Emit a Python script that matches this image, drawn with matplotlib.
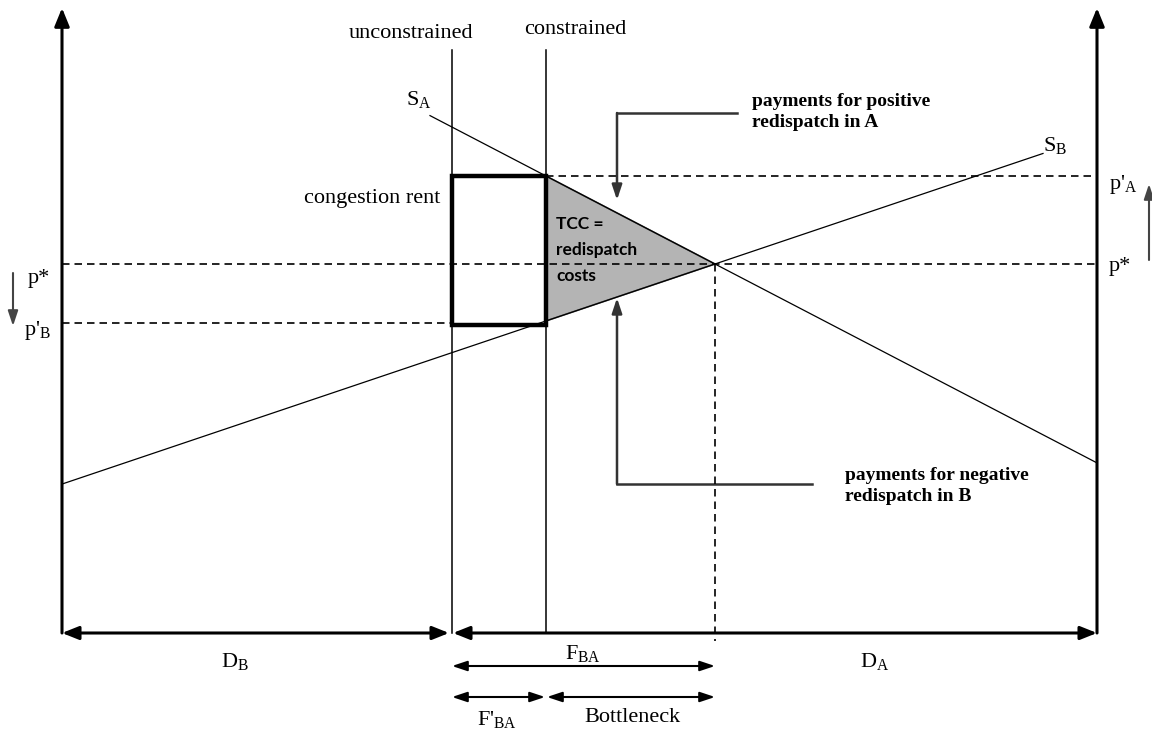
import matplotlib
matplotlib.use("Agg")
import matplotlib.pyplot as plt
from matplotlib.patches import Polygon, Rectangle
from matplotlib.font_manager import FontProperties

plt.rcParams['mathtext.fontset'] = 'custom'
plt.rcParams['mathtext.rm'] = 'Liberation Serif'
plt.rcParams['mathtext.it'] = 'Liberation Serif:italic'
plt.rcParams['mathtext.bf'] = 'Liberation Serif:bold'

# ---- diagram coordinates (pixel-like data space) ----
x_axes = [62, 1097]                  # left and right price axes
x_flows = [452, 546, 715]            # unconstrained, constrained, equilibrium
y_prices = [176, 264, 323]           # p'_A, p*, p'_B
y_base, y_top = 633, 8
# supply curves: through equilibrium (715, 264)
SA_x = [430, 1097]
SB_x = [62, 1043]
SA_slope, SB_slope = 0.5207, -0.337

SERIF = 'Liberation Serif'
BOLD_SERIF = FontProperties(family=['Liberation Serif'], weight='bold', size=14)
fig = plt.figure(figsize=(11.52, 7.36), dpi=100)
ax = fig.add_axes([0, 0, 1, 1])
ax.set_xlim(0, 1152)
ax.set_ylim(736, 0)
ax.axis('off')

xl, xr = x_axes
xu, xc, xe = x_flows
pA, ps, pB = y_prices

def sa(x):
    return ps + SA_slope * (x - xe)

def sb(x):
    return ps + SB_slope * (x - xe)

# shaded TCC triangle
tri = Polygon([[xc, sa(xc)], [xe, ps], [xc, sb(xc)]], closed=True,
              facecolor='#b4b4b4', edgecolor='#555555', lw=1.2, zorder=2)
ax.add_patch(tri)

# vertical axes with arrows
akw = dict(arrowstyle='-|>,head_length=1.1,head_width=0.45', color='black', lw=2.2,
           shrinkA=0, shrinkB=0)
for x in x_axes:
    ax.annotate('', xy=(x, y_top), xytext=(x, y_base), arrowprops=akw, zorder=5)

# bottom axis double arrows
dkw = dict(arrowstyle='<|-|>,head_length=1.0,head_width=0.4', color='black', lw=2.2,
           shrinkA=0, shrinkB=0)
ax.annotate('', xy=(xl, y_base), xytext=(xu - 3, y_base), arrowprops=dkw, zorder=5)
ax.annotate('', xy=(xu + 1, y_base), xytext=(xr, y_base), arrowprops=dkw, zorder=5)

# unconstrained / constrained verticals
for x in (xu, xc):
    ax.plot([x, x], [50, y_base], color='black', lw=1.1, zorder=3)

# supply curves
ax.plot(SA_x, [sa(v) for v in SA_x], color='black', lw=0.9, zorder=3)
ax.plot(SB_x, [sb(v) for v in SB_x], color='black', lw=0.9, zorder=3)

# dashed price lines
dash = dict(color='black', lw=1.2, ls=(0, (4.5, 3)), zorder=3)
ax.plot([xc, xr], [pA, pA], **dash)
ax.plot([xl, xr], [ps, ps], **dash)
ax.plot([xl, xu], [pB, pB], **dash)
ax.plot([xe, xe], [ps, y_base + 8], **dash)

# congestion rent box
ax.add_patch(Rectangle((xu, pA), xc - xu, pB + 2 - pA, fill=False,
                       edgecolor='black', lw=3.2, zorder=4))

# lower flow arrows
fkw = dict(arrowstyle='<|-|>,head_length=0.9,head_width=0.3', color='black', lw=1.5,
           shrinkA=0, shrinkB=0)
ax.annotate('', xy=(xu, 666), xytext=(xe, 666), arrowprops=fkw)
ax.annotate('', xy=(xu, 697), xytext=(xc - 1, 697), arrowprops=fkw)
ax.annotate('', xy=(xc + 1, 697), xytext=(xe, 697), arrowprops=fkw)

# payment annotation arrows
pkw = dict(arrowstyle='-|>,head_length=0.9,head_width=0.3', color='#333333', lw=1.8,
           shrinkA=0, shrinkB=0)
ax.plot([737, 617], [113, 113], color='#333333', lw=1.8)
ax.annotate('', xy=(617, 200), xytext=(617, 113), arrowprops=pkw)
ax.plot([812, 617], [484, 484], color='#333333', lw=1.8)
ax.annotate('', xy=(617, 298), xytext=(617, 484), arrowprops=pkw)

# price change arrows at sides
skw = dict(arrowstyle='-|>,head_length=0.9,head_width=0.3', color='#444444', lw=1.5,
           shrinkA=0, shrinkB=0)
ax.annotate('', xy=(13, 326), xytext=(13, 273), arrowprops=skw)
ax.annotate('', xy=(1149, 184), xytext=(1149, 260), arrowprops=skw)

# text
tfs = 16
ax.text(411, 33, 'unconstrained', family=SERIF, fontsize=tfs, ha='center', va='center')
ax.text(575, 30, 'constrained', family=SERIF, fontsize=tfs, ha='center', va='center')
ax.text(406, 100, r'S$_{\mathrm{A}}$', family=SERIF, fontsize=tfs, ha='left', va='center')
ax.text(1043, 146, r'S$_{\mathrm{B}}$', family=SERIF, fontsize=tfs, ha='left', va='center')
ax.text(440, 199, 'congestion rent', family=SERIF, fontsize=tfs, ha='right', va='center')
ax.text(556, 250, 'TCC =\nredispatch\ncosts', family='Lato', fontweight='bold',
        fontsize=12.5, ha='left', va='center', linespacing=1.8, zorder=5)
ax.text(752, 112, 'payments for positive\nredispatch in A', fontproperties=BOLD_SERIF,
        ha='left', va='center', linespacing=1.35)
ax.text(845, 486, 'payments for negative\nredispatch in B', fontproperties=BOLD_SERIF,
        ha='left', va='center', linespacing=1.35)

ax.text(28, 278, 'p*', family=SERIF, fontsize=tfs, ha='left', va='center')
ax.text(24, 330, r"p'$_{\mathrm{B}}$", family=SERIF, fontsize=tfs, ha='left', va='center')
ax.text(1109, 185, r"p'$_{\mathrm{A}}$", family=SERIF, fontsize=tfs, ha='left', va='center')
ax.text(1109, 267, 'p*', family=SERIF, fontsize=tfs, ha='left', va='center')

ax.text(235, 662, r'D$_{\mathrm{B}}$', family=SERIF, fontsize=tfs, ha='center', va='center')
ax.text(875, 662, r'D$_{\mathrm{A}}$', family=SERIF, fontsize=tfs, ha='center', va='center')
ax.text(583, 653, r'F$_{\mathrm{BA}}$', family=SERIF, fontsize=tfs, ha='center', va='center')
ax.text(497, 720, r"F'$_{\mathrm{BA}}$", family=SERIF, fontsize=tfs, ha='center', va='center')
ax.text(632, 718, 'Bottleneck', family=SERIF, fontsize=tfs, ha='center', va='center')

fig.savefig('out.png', dpi=100)
